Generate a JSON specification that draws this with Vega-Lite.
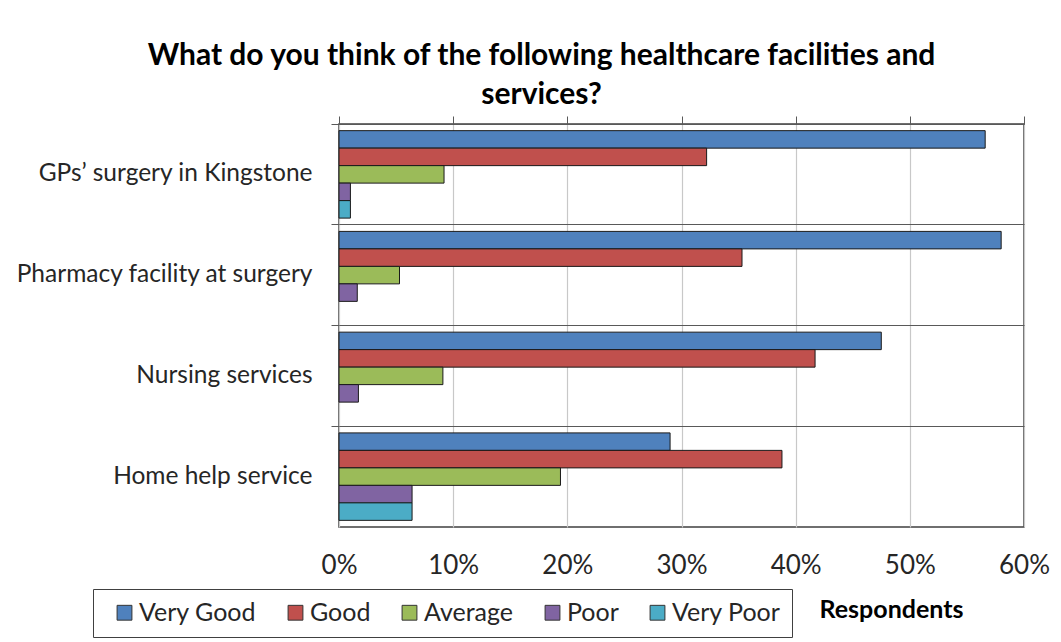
{
  "$schema": "https://vega.github.io/schema/vega-lite/v6.json",
  "autosize": {"type": "none"},
  "width": 685,
  "height": 403,
  "padding": {"left": 339, "top": 124, "right": 37, "bottom": 115},
  "background": "white",
  "title": {
    "text": ["What do you think of the following healthcare facilities and", "services?"],
    "anchor": "middle",
    "frame": "group",
    "dx": -140,
    "offset": 6,
    "font": "Lato",
    "fontSize": 30,
    "fontWeight": "bold",
    "lineHeight": 39,
    "color": "#000000"
  },
  "data": {
    "values": [
      {"facility": "GPs’ surgery in Kingstone", "rating": "Very Good", "pct": 0.566},
      {"facility": "GPs’ surgery in Kingstone", "rating": "Good", "pct": 0.322},
      {"facility": "GPs’ surgery in Kingstone", "rating": "Average", "pct": 0.092},
      {"facility": "GPs’ surgery in Kingstone", "rating": "Poor", "pct": 0.010},
      {"facility": "GPs’ surgery in Kingstone", "rating": "Very Poor", "pct": 0.010},
      {"facility": "Pharmacy facility at surgery", "rating": "Very Good", "pct": 0.580},
      {"facility": "Pharmacy facility at surgery", "rating": "Good", "pct": 0.353},
      {"facility": "Pharmacy facility at surgery", "rating": "Average", "pct": 0.053},
      {"facility": "Pharmacy facility at surgery", "rating": "Poor", "pct": 0.016},
      {"facility": "Nursing services", "rating": "Very Good", "pct": 0.475},
      {"facility": "Nursing services", "rating": "Good", "pct": 0.417},
      {"facility": "Nursing services", "rating": "Average", "pct": 0.091},
      {"facility": "Nursing services", "rating": "Poor", "pct": 0.017},
      {"facility": "Home help service", "rating": "Very Good", "pct": 0.290},
      {"facility": "Home help service", "rating": "Good", "pct": 0.388},
      {"facility": "Home help service", "rating": "Average", "pct": 0.194},
      {"facility": "Home help service", "rating": "Poor", "pct": 0.064},
      {"facility": "Home help service", "rating": "Very Poor", "pct": 0.064}
    ]
  },
  "layer": [
    {
      "mark": {"type": "bar", "stroke": "#1a1a1a", "strokeWidth": 1},
      "encoding": {
        "y": {
          "field": "facility",
          "type": "nominal",
          "sort": null,
          "scale": {"paddingInner": 0, "paddingOuter": 0},
          "axis": {
            "title": null,
            "bandPosition": 0,
            "grid": true,
            "gridColor": "#595959",
            "gridWidth": 1.2,
            "ticks": true,
            "tickSize": 8,
            "tickColor": "#595959",
            "domain": false,
            "labelPadding": 19,
            "labelFont": "Lato",
            "labelFontSize": 24.5,
            "labelColor": "#262626",
            "labelLimit": 400
          }
        },
        "yOffset": {
          "field": "rating",
          "type": "nominal",
          "sort": ["Very Good", "Good", "Average", "Poor", "Very Poor"],
          "scale": {"paddingInner": 0, "paddingOuter": 0.38}
        },
        "x": {
          "field": "pct",
          "type": "quantitative",
          "scale": {"domain": [0, 0.6], "nice": false},
          "axis": {
            "orient": "bottom",
            "format": "%",
            "values": [0, 0.1, 0.2, 0.3, 0.4, 0.5, 0.6],
            "grid": true,
            "gridColor": "#c8c8c8",
            "gridWidth": 1.2,
            "ticks": false,
            "tickSize": 0,
            "domain": false,
            "labelFlush": false,
            "labelPadding": 25,
            "labelFont": "Lato",
            "labelFontSize": 26,
            "labelColor": "#262626",
            "title": "Respondents",
            "titleFont": "Lato",
            "titleFontSize": 25,
            "titleFontWeight": "bold",
            "titleColor": "#000000",
            "titleX": 552,
            "titleY": 82,
            "titleAlign": "center",
            "titleBaseline": "middle"
          }
        },
        "color": {
          "field": "rating",
          "type": "nominal",
          "sort": ["Very Good", "Good", "Average", "Poor", "Very Poor"],
          "scale": {
            "domain": ["Very Good", "Good", "Average", "Poor", "Very Poor"],
            "range": ["#4F81BD", "#C0504D", "#9BBB59", "#8064A2", "#4BACC6"]
          },
          "legend": {
            "title": " ",
            "titleOrient": "left",
            "titlePadding": 8,
            "orient": "none",
            "direction": "horizontal",
            "legendX": -246,
            "legendY": 465,
            "symbolType": "square",
            "symbolSize": 220,
            "symbolStrokeColor": "#333333",
            "symbolStrokeWidth": 1,
            "labelFont": "Lato",
            "labelFontSize": 25,
            "labelColor": "#262626",
            "labelOffset": 2,
            "columnPadding": 26,
            "padding": 11,
            "strokeColor": "#404040",
            "fillColor": "white"
          }
        }
      }
    },
    {
      "mark": {"type": "rule", "opacity": 0},
      "encoding": {
        "x": {
          "field": "pct",
          "type": "quantitative",
          "axis": {
            "orient": "top",
            "values": [0, 0.1, 0.2, 0.3, 0.4, 0.5, 0.6],
            "labels": false,
            "grid": false,
            "domain": false,
            "ticks": true,
            "tickSize": 8,
            "tickColor": "#595959",
            "title": null
          }
        }
      }
    }
  ],
  "resolve": {"axis": {"x": "independent"}},
  "config": {
    "view": {"stroke": "#404040", "strokeWidth": 1.5}
  }
}
